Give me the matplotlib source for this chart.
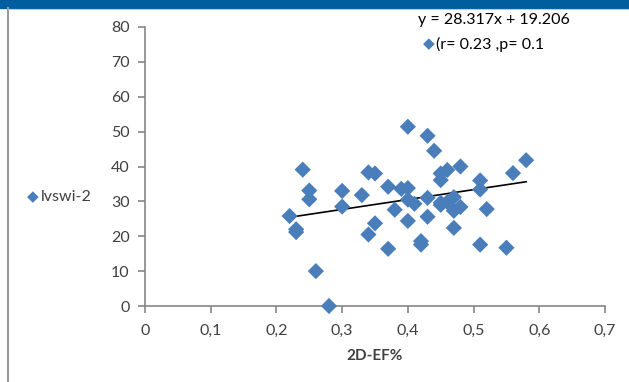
import matplotlib.pyplot as plt
from matplotlib.lines import Line2D
from matplotlib.patches import Rectangle

plt.rcParams['font.family'] = ['Lato', 'DejaVu Sans']

# 2D-EF% vs lvswi-2
ef = [0.22, 0.23, 0.23, 0.24, 0.25, 0.25, 0.26, 0.28, 0.30, 0.30,
      0.33, 0.34, 0.35, 0.34, 0.35, 0.37, 0.37, 0.38, 0.39, 0.40,
      0.40, 0.40, 0.40, 0.41, 0.42, 0.42, 0.43, 0.43, 0.43, 0.44,
      0.45, 0.45, 0.45, 0.45, 0.46, 0.46, 0.47, 0.47, 0.47, 0.48,
      0.48, 0.51, 0.51, 0.51, 0.52, 0.55, 0.56, 0.58]
lvswi = [25.8, 22.0, 21.2, 39.1, 33.1, 30.6, 10.0, 0.0, 33.0, 28.5,
         31.8, 38.3, 38.0, 20.5, 23.7, 34.2, 16.4, 27.6, 33.6, 51.4,
         33.8, 30.5, 24.4, 29.3, 18.6, 17.6, 48.8, 31.0, 25.6, 44.5,
         38.0, 36.1, 29.6, 29.0, 39.0, 29.8, 31.2, 27.3, 22.4, 40.0,
         28.4, 36.0, 33.4, 17.6, 27.8, 16.7, 38.1, 41.8]

slope, intercept = 28.317, 19.206

xticks = [0, 0.1, 0.2, 0.3, 0.4, 0.5, 0.6, 0.7]
xticklabels = ['0', '0,1', '0,2', '0,3', '0,4', '0,5', '0,6', '0,7']
yticks = [0, 10, 20, 30, 40, 50, 60, 70, 80]

blue = '#4A7EBB'
gray = '#868686'
txt = '#404040'

fig = plt.figure(figsize=(6.29, 3.82), dpi=100)
# header bar and frame
fig.patches.append(Rectangle((0, 1 - 8 / 382), 1, 8 / 382, transform=fig.transFigure,
                             color='#005E9E', zorder=0))
fig.add_artist(Line2D([8 / 629, 8 / 629], [0, 1 - 8 / 382], transform=fig.transFigure,
                      color='#9a9a9a', lw=1.5))
fig.add_artist(Line2D([8 / 629, 1], [1 - 9 / 382, 1 - 9 / 382], transform=fig.transFigure,
                      color='#c8c8c8', lw=0.8))

ax = fig.add_axes([145 / 629, 1 - 306 / 382, 460 / 629, 279 / 382])
ax.scatter(ef, lvswi, marker='D', s=68, color=blue, edgecolors='none', zorder=3,
           clip_on=False)
x0, x1 = min(ef), max(ef)
ax.plot([x0, x1], [slope * x0 + intercept, slope * x1 + intercept], color='black', lw=1.2,
        zorder=2)

ax.set_xlim(0, 0.7)
ax.set_ylim(0, 80)
ax.set_xticks(xticks)
ax.set_xticklabels(xticklabels)
ax.set_yticks(yticks)
for s in ['top', 'right']:
    ax.spines[s].set_visible(False)
for s in ['left', 'bottom']:
    ax.spines[s].set_color(gray)
    ax.spines[s].set_linewidth(1.2)
ax.tick_params(axis='both', colors=gray, labelcolor=txt, labelsize=11.5, length=5, width=1.2)
ax.tick_params(axis='x', pad=8)
ax.tick_params(axis='y', pad=6)
ax.set_xlabel('2D-EF%', fontsize=11, fontweight='bold', color=txt, labelpad=8)

# legend and trendline label
fig.text(33 / 629, 1 - 197 / 382, '\u25c6', color=blue, fontsize=11, ha='center', va='center',
         family=['DejaVu Sans'])
fig.text(41 / 629, 1 - 197 / 382, 'lvswi-2', color=txt, fontsize=11.5, ha='left', va='center')
fig.text(418 / 629, 1 - 20 / 382, 'y = 28.317x + 19.206', color='black', fontsize=11.5,
         ha='left', va='center')
fig.text(429 / 629, 1 - 44 / 382, '\u25c6', color=blue, fontsize=11, ha='center', va='center',
         family=['DejaVu Sans'])
fig.text(436 / 629, 1 - 44 / 382, '(r= 0.23 ,p= 0.1', color='black', fontsize=11.5,
         ha='left', va='center')

fig.savefig('out.png', dpi=100)
